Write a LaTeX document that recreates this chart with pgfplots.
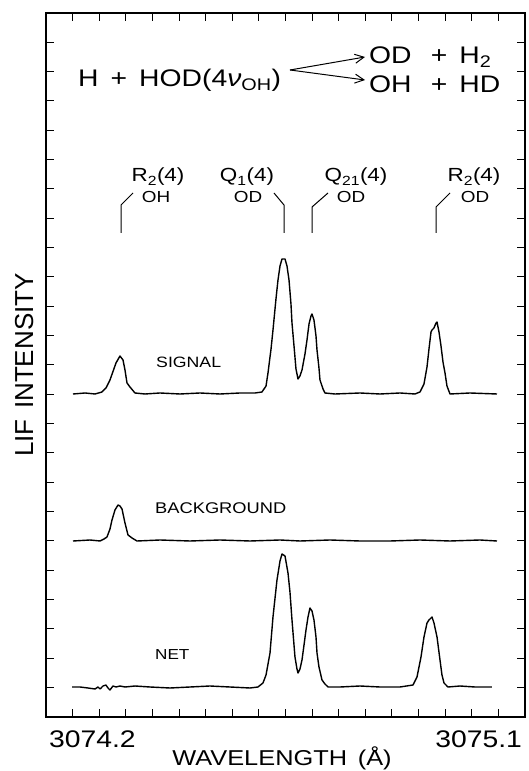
\documentclass[border=0pt]{standalone}
\usepackage{fontspec}
\setmainfont[FakeStretch=1.18]{Liberation Sans}
\newfontfamily\plainsans{Liberation Sans}
\usepackage{pgfplots}
\pgfplotsset{compat=1.18}
\usetikzlibrary{arrows.meta}
\newcommand{\fs}[1]{\fontsize{#1}{#1}\selectfont}

\pgfplotstableread{
x y
3074.2507 323
3074.2733 324
3074.2921 323
3074.3052 325
3074.3127 329
3074.3202 337
3074.3315 354
3074.3390 361
3074.3447 357
3074.3484 347
3074.3522 334
3074.3578 330
3074.3672 324
3074.3860 323
3074.4142 324
3074.4518 323
3074.4894 324
3074.5269 323
3074.5645 324
3074.5927 324
3074.6058 325
3074.6134 331
3074.6171 344
3074.6228 368
3074.6265 387
3074.6321 418
3074.6359 437
3074.6397 451
3074.6434 458
3074.6491 458
3074.6528 451
3074.6566 437
3074.6603 413
3074.6622 394
3074.6660 371
3074.6697 348
3074.6735 338
3074.6772 341
3074.6810 347
3074.6866 363
3074.6904 377
3074.6942 393
3074.6979 401
3074.6998 403
3074.7035 397
3074.7073 381
3074.7092 367
3074.7129 349
3074.7148 337
3074.7205 328
3074.7242 324
3074.7430 323
3074.7900 324
3074.8276 323
3074.8651 324
3074.8933 323
3074.9027 325
3074.9102 333
3074.9159 350
3074.9196 368
3074.9234 385
3074.9253 387
3074.9290 389
3074.9328 394
3074.9347 395
3074.9384 385
3074.9422 371
3074.9459 355
3074.9497 344
3074.9534 331
3074.9591 323
3074.9967 324
3075.0474 323
}\signaltab

\pgfplotstableread{
x y
3074.2507 176
3074.2827 177
3074.3015 176
3074.3090 178
3074.3146 180
3074.3202 188
3074.3240 197
3074.3296 207
3074.3353 212
3074.3390 211
3074.3428 208
3074.3484 194
3074.3541 182
3074.3616 179
3074.3710 176
3074.4142 177
3074.4706 176
3074.5269 177
3074.5833 176
3074.6397 177
3074.6772 176
3074.7336 177
3074.7900 176
3074.8463 176
3074.9027 177
3074.9591 176
3075.0154 177
3075.0474 176
}\backtab

\pgfplotstableread{
x y
3074.2489 30
3074.2639 30
3074.2789 29
3074.2921 28
3074.2977 30
3074.3015 28
3074.3071 31
3074.3127 32
3074.3165 29
3074.3202 27
3074.3259 31
3074.3315 30
3074.3390 31
3074.3484 30
3074.3672 31
3074.3954 30
3074.4330 29
3074.4706 30
3074.5081 31
3074.5457 30
3074.5833 29
3074.5983 30
3074.6077 34
3074.6134 42
3074.6209 64
3074.6265 100
3074.6340 137
3074.6397 156
3074.6434 163
3074.6491 161
3074.6547 144
3074.6584 125
3074.6622 97
3074.6678 60
3074.6716 48
3074.6735 44
3074.6772 48
3074.6810 57
3074.6848 72
3074.6885 87
3074.6923 100
3074.6960 109
3074.6998 106
3074.7035 97
3074.7073 80
3074.7092 64
3074.7129 50
3074.7186 37
3074.7242 33
3074.7299 30
3074.7524 30
3074.7900 31
3074.8276 30
3074.8651 30
3074.8896 32
3074.8971 40
3074.9046 60
3074.9102 80
3074.9159 94
3074.9196 97
3074.9253 100
3074.9290 94
3074.9347 80
3074.9403 57
3074.9440 42
3074.9478 34
3074.9553 30
3074.9779 31
3075.0061 30
3075.0380 30
}\nettab

\begin{document}
\begin{tikzpicture}
\useasboundingbox (-46pt,-54pt) rectangle (482pt,717pt);
\begin{axis}[
  at={(0pt,0pt)}, anchor=south west,
  scale only axis, width=479pt, height=704pt,
  xmin=3074.2, xmax=3075.1, ymin=0, ymax=704,
  clip=false,
  axis line style={line width=1.3pt},
  tick align=inside,
  major tick length=8pt,
  tick style={line width=1pt, black},
  xtick={3074.25,3074.30,3074.35,3074.40,3074.45,3074.50,3074.55,3074.60,3074.65,3074.70,3074.75,3074.80,3074.85,3074.90,3074.95,3075.00,3075.05},
  xticklabels={},
  ytick={29.333,58.667,88,117.333,146.667,176,205.333,234.667,264,293.333,322.667,352,381.333,410.667,440,469.333,498.667,528,557.333,586.667,616,645.333,674.667},
  yticklabels={},
  xlabel={WAVELENGTH\hspace{0.5em}(Å)},
  xlabel style={at={(axis description cs:0.4927,0)}, anchor=base, yshift=-48pt, font=\fs{21.5}},
  ylabel={LIF\hspace{0.4em}INTENSITY},
  ylabel style={at={(axis description cs:-0.0271,0.5)}, anchor=base, font=\plainsans\fs{26}},
]
\addplot[black, line width=1.4pt, line join=round, mark=none] table[x=x,y=y] {\signaltab};
\addplot[black, line width=1.4pt, line join=round, mark=none] table[x=x,y=y] {\backtab};
\addplot[black, line width=1.4pt, line join=round, mark=none] table[x=x,y=y] {\nettab};
\node[anchor=base west, inner sep=0pt, font=\fs{24}, yshift=-30pt] at (rel axis cs:0.006,0) {3074.2};
\node[anchor=base east, inner sep=0pt, font=\fs{24}, yshift=-30pt] at (rel axis cs:0.994,0) {3075.1};
\end{axis}
\begin{scope}[x=1pt,y=1pt]
% reaction
\node[anchor=base west, inner sep=0pt, font=\fs{24}] at (32,630) {H\hspace{0.5em}+\hspace{0.5em}HOD(4{\itshape ν}\textsubscript{OH})};
\draw[-{Straight Barb[length=9pt,width=9pt]}, line width=1pt] (244,647) -- (319,660);
\draw[-{Straight Barb[length=9pt,width=9pt]}, line width=1pt] (244,647) -- (319,637);
\node[anchor=base west, inner sep=0pt, font=\fs{24}] at (323,653) {OD\hspace{0.8em}+\hspace{0.5em}H\textsubscript{2}};
\node[anchor=base west, inner sep=0pt, font=\fs{24}] at (323,624) {OH\hspace{0.8em}+\hspace{0.5em}HD};
% line labels
\node[anchor=base, inner sep=0pt, font=\fs{19}] at (112,535) {R\textsubscript{2}(4)};
\node[anchor=base, inner sep=0pt, font=\fs{16}] at (110,514) {OH};
\node[anchor=base, inner sep=0pt, font=\fs{19}] at (201,535) {Q\textsubscript{1}(4)};
\node[anchor=base, inner sep=0pt, font=\fs{16}] at (202,514) {OD};
\node[anchor=base, inner sep=0pt, font=\fs{19}] at (310,535) {Q\textsubscript{21}(4)};
\node[anchor=base, inner sep=0pt, font=\fs{16}] at (305,514) {OD};
\node[anchor=base, inner sep=0pt, font=\fs{19}] at (428,535) {R\textsubscript{2}(4)};
\node[anchor=base, inner sep=0pt, font=\fs{16}] at (429,514) {OD};
\draw[line width=1pt] (87,524) -- (75,512) -- (75,484);
\draw[line width=1pt] (228,524) -- (238,512) -- (238,484);
\draw[line width=1pt] (282,524) -- (266,510) -- (266,484);
\draw[line width=1pt] (404,524) -- (390,510) -- (390,484);
% trace labels
\node[anchor=base west, inner sep=0pt, font=\fs{15}] at (110,349) {SIGNAL};
\node[anchor=base west, inner sep=0pt, font=\fs{15.5}] at (109,203) {BACKGROUND};
\node[anchor=base west, inner sep=0pt, font=\fs{14.5}] at (109,57) {NET};
\end{scope}
\end{tikzpicture}
\end{document}
